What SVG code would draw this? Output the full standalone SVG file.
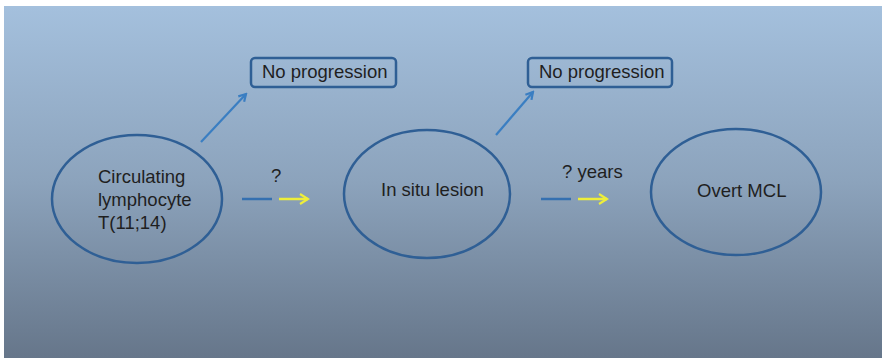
<svg xmlns="http://www.w3.org/2000/svg" width="884" height="358" viewBox="0 0 884 358">
  <defs>
    <linearGradient id="bg" x1="0" y1="0" x2="0" y2="1">
      <stop offset="0" stop-color="#a4c0dd"/>
      <stop offset="0.5" stop-color="#8ca3bc"/>
      <stop offset="1" stop-color="#66768a"/>
    </linearGradient>
    <marker id="headBlue" markerWidth="10" markerHeight="10" refX="8" refY="5" orient="auto" markerUnits="userSpaceOnUse">
      <path d="M1,1 L8,5 L1,9" fill="none" stroke="#3a7ec2" stroke-width="2.2"/>
    </marker>
    <marker id="headYellow" markerWidth="12" markerHeight="12" refX="10" refY="6" orient="auto" markerUnits="userSpaceOnUse">
      <path d="M2,1 L10,6 L2,11" fill="none" stroke="#eeee3a" stroke-width="2.2"/>
    </marker>
  </defs>
  <style>
    text { font-family: "Liberation Sans", Arial, sans-serif; font-size: 18.5px; fill: #1f1f1f; }
    .node ellipse { fill: none; stroke: #2f5f95; stroke-width: 2.5; }
    .node rect { fill: none; stroke: #2f5f95; stroke-width: 2.5; }
    .up { stroke: #3a7ec2; stroke-width: 2.2; marker-end: url(#headBlue); }
    .dash { stroke: #3570b0; stroke-width: 2.5; }
    .go { stroke: #eeee3a; stroke-width: 2.5; marker-end: url(#headYellow); }
  </style>

  <rect x="4" y="6" width="878" height="352" fill="url(#bg)"/>

  <g id="circulating" class="node">
    <ellipse cx="137" cy="199" rx="85" ry="64"/>
    <text x="98" y="183">Circulating</text>
    <text x="98" y="206">lymphocyte</text>
    <text x="98" y="229">T(11;14)</text>
  </g>

  <g id="insitu" class="node">
    <ellipse cx="427" cy="194" rx="83" ry="64"/>
    <text x="381" y="196">In situ lesion</text>
  </g>

  <g id="overt" class="node">
    <ellipse cx="736" cy="192" rx="85" ry="63"/>
    <text x="697" y="197">Overt MCL</text>
  </g>

  <g id="noprog1" class="node">
    <rect x="251" y="58" width="145" height="29" rx="4"/>
    <text x="262" y="78">No progression</text>
  </g>

  <g id="noprog2" class="node">
    <rect x="528" y="58" width="144" height="29" rx="4"/>
    <text x="539" y="78">No progression</text>
  </g>

  <g id="connectors">
    <line class="up" x1="201" y1="142" x2="246" y2="94"/>
    <line class="up" x1="496" y1="135" x2="533" y2="92"/>

    <text x="271" y="182">?</text>
    <line class="dash" x1="242" y1="199" x2="272" y2="199"/>
    <line class="go" x1="279" y1="199" x2="308" y2="199"/>

    <text x="562" y="178">? years</text>
    <line class="dash" x1="541" y1="199" x2="571" y2="199"/>
    <line class="go" x1="578" y1="199" x2="607" y2="199"/>
  </g>
</svg>
